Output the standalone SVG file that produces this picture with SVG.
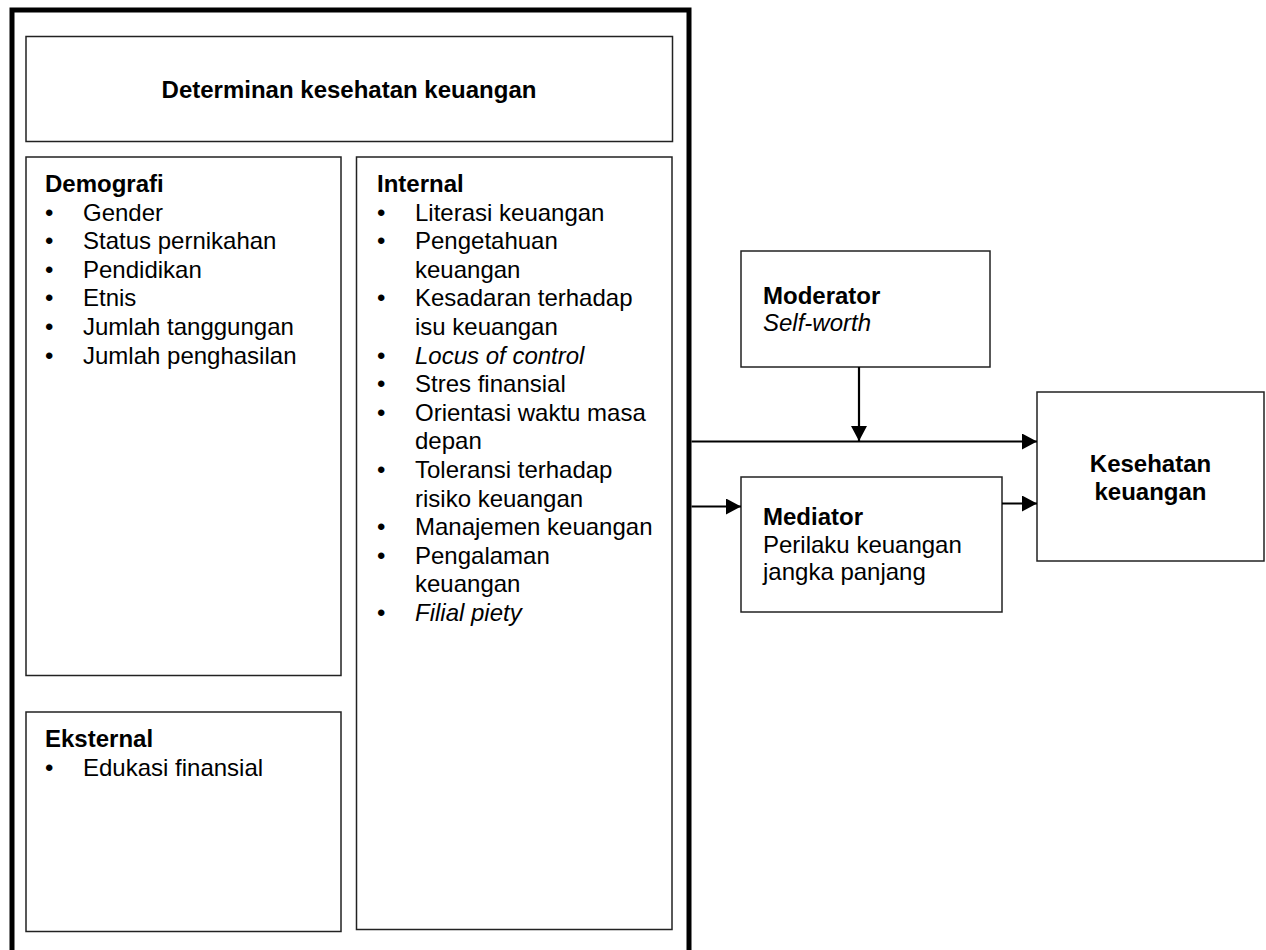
<svg xmlns="http://www.w3.org/2000/svg" width="1266" height="950" viewBox="0 0 1266 950">
<style>
  text { font-family: "Liberation Sans", Arial, sans-serif; font-size: 24px; fill: #000; }
  .b { font-weight: bold; }
  .i { font-style: italic; }
  .box { fill: #fff; stroke: #222; stroke-width: 1.5; }
  .outer { fill: none; stroke: #000; stroke-width: 5; }
  .conn { fill: none; stroke: #000; stroke-width: 2.2; }
</style>
<defs>
  <marker id="arr" viewBox="0 0 15 16" refX="15" refY="8" markerWidth="15" markerHeight="16" markerUnits="userSpaceOnUse" orient="auto">
    <path d="M0,0 L15,8 L0,16 Z" fill="#000"/>
  </marker>
</defs>
<rect width="1266" height="950" fill="#fff"/>

<g id="determinan">
  <path class="outer" d="M12,960 L12,10 L689,10 L689,960"/>
  <g id="title">
    <rect class="box" x="26" y="36.5" width="646.5" height="105"/>
    <text class="b" x="349" y="98" text-anchor="middle">Determinan kesehatan keuangan</text>
  </g>
  <g id="demografi">
    <rect class="box" x="26" y="157" width="315" height="518.5"/>
    <text class="b" x="45" y="192">Demografi</text>
    <text x="45" y="220.6">•</text><text x="83" y="220.6">Gender</text>
    <text x="45" y="249.2">•</text><text x="83" y="249.2">Status pernikahan</text>
    <text x="45" y="277.8">•</text><text x="83" y="277.8">Pendidikan</text>
    <text x="45" y="306.4">•</text><text x="83" y="306.4">Etnis</text>
    <text x="45" y="335">•</text><text x="83" y="335">Jumlah tanggungan</text>
    <text x="45" y="363.6">•</text><text x="83" y="363.6">Jumlah penghasilan</text>
  </g>
  <g id="eksternal">
    <rect class="box" x="26" y="712" width="315" height="219.5"/>
    <text class="b" x="45" y="747">Eksternal</text>
    <text x="45" y="775.6">•</text><text x="83" y="775.6">Edukasi finansial</text>
  </g>
  <g id="internal">
    <rect class="box" x="356.5" y="157" width="315.5" height="772.5"/>
    <text class="b" x="377" y="192">Internal</text>
    <text x="377" y="220.6">•</text><text x="415" y="220.6">Literasi keuangan</text>
    <text x="377" y="249.2">•</text><text x="415" y="249.2">Pengetahuan</text>
    <text x="415" y="277.8">keuangan</text>
    <text x="377" y="306.4">•</text><text x="415" y="306.4">Kesadaran terhadap</text>
    <text x="415" y="335">isu keuangan</text>
    <text x="377" y="363.6">•</text><text class="i" x="415" y="363.6">Locus of control</text>
    <text x="377" y="392.2">•</text><text x="415" y="392.2">Stres finansial</text>
    <text x="377" y="420.8">•</text><text x="415" y="420.8">Orientasi waktu masa</text>
    <text x="415" y="449.4">depan</text>
    <text x="377" y="478">•</text><text x="415" y="478">Toleransi terhadap</text>
    <text x="415" y="506.6">risiko keuangan</text>
    <text x="377" y="535.2">•</text><text x="415" y="535.2">Manajemen keuangan</text>
    <text x="377" y="563.8">•</text><text x="415" y="563.8">Pengalaman</text>
    <text x="415" y="592.4">keuangan</text>
    <text x="377" y="621">•</text><text class="i" x="415" y="621">Filial piety</text>
  </g>
</g>

<g id="moderator">
  <rect class="box" x="741" y="251" width="249" height="116"/>
  <text class="b" x="763" y="303.5">Moderator</text>
  <text class="i" x="763" y="331">Self-worth</text>
</g>

<g id="mediator">
  <rect class="box" x="741" y="477" width="261" height="135"/>
  <text class="b" x="763" y="525">Mediator</text>
  <text x="763" y="552.5">Perilaku keuangan</text>
  <text x="763" y="580">jangka panjang</text>
</g>

<g id="kesehatan">
  <rect class="box" x="1037" y="392" width="227" height="169"/>
  <text class="b" x="1150.5" y="472" text-anchor="middle">Kesehatan</text>
  <text class="b" x="1150.5" y="500" text-anchor="middle">keuangan</text>
</g>

<g id="connectors">
  <line class="conn" x1="691.5" y1="441.5" x2="1037" y2="441.5" marker-end="url(#arr)"/>
  <line class="conn" x1="859" y1="367" x2="859" y2="441" marker-end="url(#arr)"/>
  <line class="conn" x1="691.5" y1="506.5" x2="741" y2="506.5" marker-end="url(#arr)"/>
  <line class="conn" x1="1002" y1="503.5" x2="1037" y2="503.5" marker-end="url(#arr)"/>
</g>
</svg>
